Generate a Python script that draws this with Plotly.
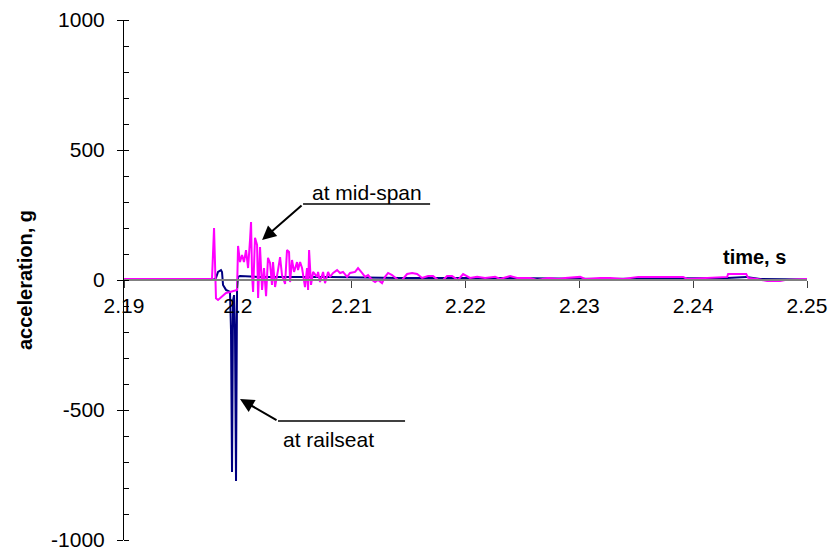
import plotly.graph_objects as go

# ---- data ----
mid_t = [2.1900, 2.19773, 2.19791, 2.19808, 2.19826, 2.19861, 2.19896, 2.19931, 2.19975, 2.19993,
         2.20002, 2.20019, 2.20037, 2.20054, 2.20072, 2.20090, 2.20107, 2.20116, 2.20125, 2.20134,
         2.20151, 2.20169, 2.20178, 2.20195, 2.20213, 2.20230, 2.20248, 2.20265, 2.20283, 2.20300,
         2.20309, 2.20327, 2.20353, 2.20371, 2.20388, 2.20415, 2.20432, 2.20450, 2.20459, 2.20476,
         2.20494, 2.20520, 2.20529, 2.20547, 2.20564, 2.20590, 2.20608, 2.20617, 2.20626, 2.20643,
         2.20661, 2.20696, 2.20705, 2.20722, 2.20749, 2.20766, 2.20793, 2.20810, 2.20837, 2.20872,
         2.20898, 2.20924, 2.20960, 2.20986, 2.21030, 2.21056, 2.21091, 2.21118, 2.21144, 2.21179,
         2.21206, 2.21232, 2.21267, 2.21293, 2.21320, 2.21355, 2.21408, 2.21443, 2.21487, 2.21531,
         2.21575, 2.21619, 2.21671, 2.21715, 2.21759, 2.21803, 2.21838, 2.21882, 2.21935, 2.21979,
         2.22040, 2.22102, 2.22172, 2.22260, 2.22304, 2.22392, 2.22453, 2.22568, 2.22629, 2.22726,
         2.22814, 2.22876, 2.23007, 2.23051, 2.23183, 2.23271, 2.23385, 2.23473, 2.23517, 2.23912,
         2.23947, 2.24299, 2.24307, 2.24466, 2.24483, 2.24562, 2.24650, 2.24764, 2.24808, 2.25000]
mid_a = [4, 4, 200, -70, -77, -62, -50, -46, -42, -38,
         131, 69, 96, 69, 115, 46, 154, 223, 19, -46,
         162, 135, -69, 127, -38, 46, -62, 85, 65, -19,
         69, -27, 38, 88, 19, -15, 115, 108, -8, 77,
         31, 69, 38, 69, 46, -27, 46, -38, 115, -19,
         31, 12, 31, -8, 31, -12, 31, 12, 27, 38,
         27, 31, 12, 27, 31, 46, 27, 12, 19, 0,
         -8, 0, -12, 12, 27, 19, 0, 0, 23, 27,
         23, 8, 15, 15, 0, 0, 15, 15, 0, 23,
         8, 12, 8, 12, 4, 15, 8, 8, 0, 8,
         4, 8, 12, 4, 8, 8, 4, 8, 12, 12,
         4, 12, 23, 23, 8, 4, -4, -4, 0, 4]

rail_t = [2.1900, 2.19791, 2.19808, 2.19826, 2.19852, 2.19861, 2.19870, 2.19879, 2.19896, 2.19914,
          2.19931, 2.19940, 2.19949, 2.19958, 2.19967, 2.19975, 2.19984, 2.19993, 2.20002, 2.20019,
          2.20195, 2.20810, 2.21425, 2.22304, 2.23183, 2.24299, 2.24466, 2.24589, 2.25000]
rail_a = [2, 2, 8, 31, 38, 31, -19, -27, -38, -42,
          -46, -192, -738, -77, -58, -192, -773, -38, 12, 15,
          12, 12, 8, 8, 4, 8, 12, 4, 2]

x_ticks = [2.19, 2.20, 2.21, 2.22, 2.23, 2.24, 2.25]
x_labels = ["2.19", "2.2", "2.21", "2.22", "2.23", "2.24", "2.25"]
y_ticks = [-1000, -500, 0, 500, 1000]
y_labels = ["-1000", "-500", "0", "500", "1000"]

FONT = "Liberation Sans, Arial, sans-serif"

fig = go.Figure()
fig.add_trace(go.Scatter(x=rail_t, y=rail_a, mode="lines", name="at railseat",
                         line=dict(color="#000080", width=2)))
fig.add_trace(go.Scatter(x=mid_t, y=mid_a, mode="lines", name="at mid-span",
                         line=dict(color="#FF00FF", width=2)))

# annotation leaders (data coordinates)
fig.add_shape(type="line", x0=2.20573, y0=292, x1=2.21689, y1=292,
              line=dict(color="black", width=1.5))
fig.add_annotation(x=2.20213, y=154, ax=2.20573, ay=292, axref="x", ayref="y",
                   text="", showarrow=True, arrowhead=2, arrowsize=1.4, arrowwidth=2,
                   arrowcolor="black")
fig.add_annotation(x=2.21135, y=338, text="at mid-span", showarrow=False,
                   font=dict(family=FONT, size=21, color="black"))

fig.add_shape(type="line", x0=2.20353, y0=-542, x1=2.21469, y1=-542,
              line=dict(color="black", width=1.5))
fig.add_annotation(x=2.20019, y=-458, ax=2.20353, ay=-542, axref="x", ayref="y",
                   text="", showarrow=True, arrowhead=2, arrowsize=1.4, arrowwidth=2,
                   arrowcolor="black")
fig.add_annotation(x=2.2038, y=-615, xanchor="left", text="at railseat", showarrow=False,
                   font=dict(family=FONT, size=21, color="black"))

# axis titles
fig.add_annotation(xref="paper", yref="paper", x=0.972, y=0.545, xanchor="right",
                   yanchor="middle", text="<b>time, s</b>", showarrow=False,
                   font=dict(family=FONT, size=20, color="black"))
fig.add_annotation(xref="paper", yref="paper", x=0, y=0.5, xshift=-99,
                   xanchor="center", yanchor="middle", textangle=-90,
                   text="<b>acceleration, g</b>", showarrow=False,
                   font=dict(family=FONT, size=20, color="black"))

fig.update_layout(
    width=832, height=550,
    margin=dict(l=124, r=25, t=20, b=10),
    paper_bgcolor="white", plot_bgcolor="white",
    showlegend=False,
    font=dict(family=FONT, size=21, color="black"),
    xaxis=dict(range=[2.19, 2.25], tickvals=x_ticks, ticktext=x_labels,
               anchor="free", position=0.5, side="bottom", automargin=False,
               showline=True, linecolor="#808080", linewidth=1.5,
               ticks="outside", ticklen=7, tickcolor="#404040", tickwidth=1,
               ticklabeloverflow="allow",
               showgrid=False, zeroline=False),
    yaxis=dict(range=[-1000, 1000], tickvals=y_ticks, ticktext=y_labels,
               automargin=False,
               showline=True, linecolor="black", linewidth=1,
               ticks="outside", ticklen=6, tickcolor="black",
               ticklabelstandoff=8, ticklabeloverflow="allow",
               minor=dict(dtick=100, ticks="inside", ticklen=5, tickcolor="black"),
               showgrid=False, zeroline=False),
)

fig.write_html("out.html")
